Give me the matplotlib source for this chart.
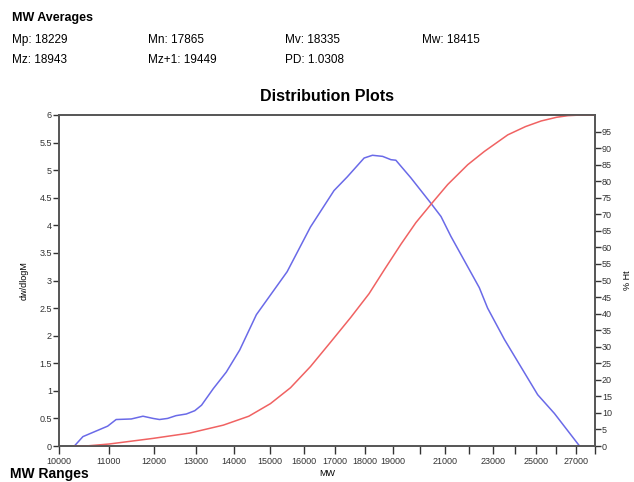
import numpy as np
import matplotlib
matplotlib.use("Agg")
import matplotlib.pyplot as plt
from matplotlib.ticker import FixedLocator, FixedFormatter, NullLocator

plt.rcParams['font.family'] = ['Liberation Sans', 'DejaVu Sans']

# MW averages shown in the header
averages = [["Mp: 18229", "Mn: 17865", "Mv: 18335", "Mw: 18415"],
            ["Mz: 18943", "Mz+1: 19449", "PD: 1.0308"]]

# dw/dlogM curve (blue)
mw_dist = [10300, 10470, 10980, 11160, 11490, 11750, 11980, 12130, 12320, 12520,
           12770, 12980, 13150, 13450, 13790, 14150, 14610, 15500, 16210, 16960,
           17400, 17970, 18260, 18620, 18920, 19100, 19290, 19660, 20430, 20830,
           21230, 22420, 22780, 23530, 25080, 25900, 27180]
dwdlogm = [0.0, 0.17, 0.36, 0.48, 0.49, 0.54, 0.50, 0.48, 0.50, 0.55,
           0.58, 0.64, 0.74, 1.04, 1.34, 1.74, 2.38, 3.16, 3.97, 4.63,
           4.88, 5.22, 5.27, 5.25, 5.19, 5.18, 5.07, 4.86, 4.40, 4.16,
           3.80, 2.87, 2.50, 1.93, 0.93, 0.59, 0.0]

# cumulative % Ht curve (red)
mw_cum = [10300, 10530, 11010, 11980, 12850, 13710, 14400, 15010, 15600, 16210,
          16860, 17510, 18140, 18700, 19290, 19850, 20430, 21100, 21930, 22640,
          23680, 24500, 25250, 26000, 26580, 27260, 28000]
pct_ht = [0.0, 0.0, 0.6, 2.3, 3.9, 6.3, 9.0, 12.8, 17.6, 24.0,
          31.5, 38.8, 46.0, 53.5, 61.0, 67.5, 73.0, 79.0, 85.0, 89.0,
          94.0, 96.5, 98.2, 99.3, 99.8, 100.0, 100.0]

x_ticks = list(range(10000, 28001, 1000))
x_labels = ["10000", "11000", "12000", "13000", "14000", "15000", "16000", "17000",
            "18000", "19000", "", "21000", "", "23000", "", "25000", "", "27000", ""]

W, H = 634, 482
fig = plt.figure(figsize=(W / 100, H / 100), dpi=100)

fig.text(12 / W, 1 - 18 / H, "MW Averages", fontsize=9, fontweight='bold', va='center')
cols = [12, 148, 285, 422]
rows = [40, 60]
for r, row in enumerate(averages):
    for c, txt in enumerate(row):
        fig.text(cols[c] / W, 1 - rows[r] / H, txt, fontsize=8.5, va='center')
fig.text(10 / W, 1 - 474 / H, "MW Ranges", fontsize=10, fontweight='bold', va='center')

ax = fig.add_axes([59 / W, 1 - 446 / H, (595 - 59) / W, (446 - 115) / H])
ax.set_xscale('log')
ax.plot(mw_dist, dwdlogm, color='#6a6ae8', lw=1.1)
ax.set_xlim(10000, 28000)
ax.set_ylim(0, 6)
ax.xaxis.set_major_locator(FixedLocator(x_ticks))
ax.xaxis.set_major_formatter(FixedFormatter(x_labels))
ax.xaxis.set_minor_locator(NullLocator())
ax.set_yticks(np.arange(0, 6.01, 0.5))
ax.set_yticklabels(["0", "0.5", "1", "1.5", "2", "2.5", "3", "3.5", "4", "4.5", "5", "5.5", "6"])
ax.tick_params(axis='x', direction='out', length=6, width=1, labelsize=6.5, pad=2, colors='#333333')
ax.tick_params(axis='y', direction='out', length=4, width=1, labelsize=6.5, pad=1, colors='#333333')
ax.set_xlabel("MW", fontsize=6.5, labelpad=2)
ax.set_ylabel("dw/dlogM", fontsize=6.5, labelpad=8)
ax.set_title("Distribution Plots", fontsize=11.5, fontweight='bold', pad=10)

ax2 = ax.twinx()
ax2.plot(mw_cum, pct_ht, color='#f06262', lw=1.1)
ax2.set_ylim(0, 100)
ax2.set_yticks(np.arange(0, 96, 5))
ax2.tick_params(axis='y', direction='out', length=4, width=1, labelsize=6.5, pad=1, colors='#333333')
ax2.set_ylabel("% Ht", fontsize=6.5, labelpad=8)
ax2.xaxis.set_minor_locator(NullLocator())

for a in (ax, ax2):
    for s in a.spines.values():
        s.set_color('#555555')
        s.set_linewidth(1.2)

fig.savefig("out.png", dpi=100)
